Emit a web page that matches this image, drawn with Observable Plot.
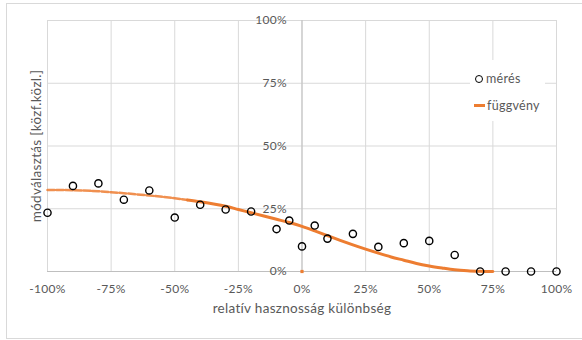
<!DOCTYPE html>
<html>
<head>
<meta charset="utf-8">
<script src="https://cdn.jsdelivr.net/npm/d3@7"></script>
<script src="https://cdn.jsdelivr.net/npm/@observablehq/plot@0.6"></script>
<style>
  html, body { margin: 0; padding: 0; background: #fff; }
  #wrap { position: relative; width: 582px; height: 340px; overflow: hidden; font-family: Lato, "Open Sans", sans-serif; }
  #border { position: absolute; left: 6px; top: 3px; width: 590px; height: 334px; border: 1px solid #d9d9d9; box-sizing: content-box; pointer-events: none; }
  #legend { position: absolute; left: 470px; top: 60px; width: 75px; height: 61px; background: #fff; color: #595959; font-size: 12.5px; letter-spacing: 0.3px; }
  .li { position: absolute; left: 4px; display: flex; align-items: center; white-space: nowrap; }
  .circ { width: 6px; height: 6px; border: 1.4px solid #000; border-radius: 50%; margin-right: 3px; margin-left: 1px; }
  .dash { width: 11px; height: 3px; background: #ED7D31; margin-right: 2px; }
</style>
</head>
<body>
<div id="wrap">
  <div id="chart"></div>
  <div id="border"></div>
  <div id="legend">
    <div class="li" style="top:11px"><span class="circ"></span><span>mérés</span></div>
    <div class="li" style="top:38px"><span class="dash"></span><span>függvény</span></div>
  </div>
</div>
<script>
// measured points (mérés)
const measX = [-1.00, -0.90, -0.80, -0.70, -0.60, -0.50, -0.40, -0.30, -0.20, -0.10, -0.05, 0.00, 0.05, 0.10, 0.20, 0.30, 0.40, 0.50, 0.60, 0.70, 0.80, 0.90, 1.00];
const measY = [0.234, 0.341, 0.351, 0.286, 0.323, 0.215, 0.266, 0.247, 0.239, 0.169, 0.203, 0.100, 0.183, 0.131, 0.150, 0.098, 0.113, 0.122, 0.066, 0.000, 0.000, 0.000, 0.000];

// fitted function (függvény)
const funcX = [-1.00, -0.90, -0.80, -0.75, -0.70, -0.60, -0.50, -0.45, -0.40, -0.30, -0.25, -0.20, -0.10, -0.05, 0.00, 0.05, 0.10, 0.15, 0.20, 0.25, 0.30, 0.35, 0.40, 0.45, 0.50, 0.55, 0.60, 0.65, 0.70, 0.75];
const funcY = [0.325, 0.324, 0.320, 0.316, 0.312, 0.303, 0.292, 0.285, 0.278, 0.260, 0.247, 0.234, 0.208, 0.195, 0.180, 0.162, 0.143, 0.124, 0.106, 0.089, 0.073, 0.058, 0.045, 0.032, 0.022, 0.014, 0.007, 0.003, 0.001, 0.000];

// stray point of the function series
const strayX = [0.0];
const strayY = [0.0];

const xTicks = [-1, -0.75, -0.5, -0.25, 0, 0.25, 0.5, 0.75, 1];
const yTicks = [0, 0.25, 0.5, 0.75, 1];
const xTitle = "relatív hasznosság különbség";
const yTitle = "módválasztás [közf.közl.]";

const meas = measX.map((x, i) => ({x, y: measY[i]}));
const func = funcX.map((x, i) => ({x, y: funcY[i]}));
const funcLeft = func.filter(d => d.x <= -0.45);
const funcRight = func.filter(d => d.x >= -0.45);
const stray = strayX.map((x, i) => ({x, y: strayY[i]}));
const pct = d => `${Math.round(d * 100)}%`;

const chart = Plot.plot({
  width: 582,
  height: 340,
  marginLeft: 47,
  marginRight: 26,
  marginTop: 20,
  marginBottom: 69,
  x: {domain: [-1, 1], axis: null},
  y: {domain: [0, 1], axis: null},
  style: {fontFamily: "Lato, 'Open Sans', sans-serif", fontSize: "12px", background: "transparent", letterSpacing: "0.3px"},
  marks: [
    Plot.ruleX(xTicks, {stroke: "#d9d9d9", strokeWidth: 1}),
    Plot.ruleY(yTicks, {stroke: "#d9d9d9", strokeWidth: 1}),
    Plot.ruleX([0], {stroke: "#bfbfbf", strokeWidth: 1}),
    Plot.ruleY([0], {stroke: "#bfbfbf", strokeWidth: 1}),
    Plot.text(yTicks, {x: 0, y: d => d, text: pct, textAnchor: "end", dx: -15, fill: "#595959"}),
    Plot.text(xTicks, {x: d => d, y: 0, text: pct, dy: 18, fill: "#595959"}),
    Plot.line(funcLeft, {x: "x", y: "y", stroke: "#ED7D31", strokeWidth: 2.5, strokeDasharray: "7,2", strokeOpacity: 0.85}),
    Plot.line(funcRight, {x: "x", y: "y", stroke: "#ED7D31", strokeWidth: 3, curve: "monotone-x"}),
    Plot.dot(stray, {x: "x", y: "y", symbol: "square", r: 1.8, fill: "#ED7D31"}),
    Plot.dot(meas, {x: "x", y: "y", r: 3.6, stroke: "#000", strokeWidth: 1.4, fill: "none"}),
    Plot.text([xTitle], {frameAnchor: "bottom", text: d => d, dy: 41, fill: "#595959", fontSize: 13.5, textAnchor: "middle"}),
    Plot.text([yTitle], {frameAnchor: "left", text: d => d, rotate: -90, dx: -11, fill: "#595959", fontSize: 13.5, textAnchor: "middle"})
  ]
});
document.getElementById("chart").appendChild(chart);
</script>
</body>
</html>
